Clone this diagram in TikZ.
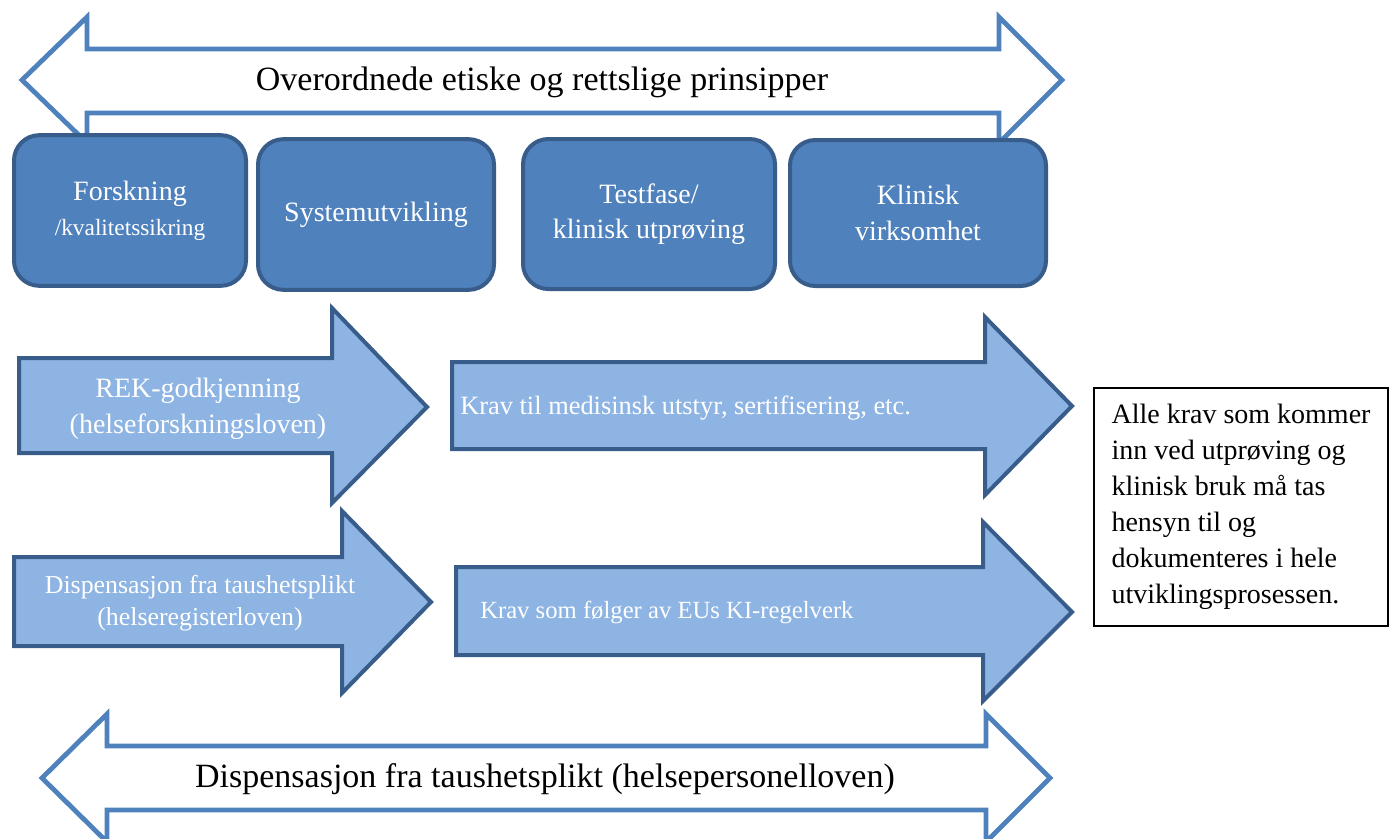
\documentclass[tikz,border=0pt]{standalone}
\usepackage{fontspec}
\setmainfont{Liberation Serif}
\definecolor{frameblue}{RGB}{79,129,189}
\definecolor{stagefill}{RGB}{79,129,189}
\definecolor{stageedge}{RGB}{56,93,138}
\definecolor{flowfill}{RGB}{142,180,227}
\tikzset{
  bigarrow/.style={draw=frameblue, line width=3.6pt, fill=white, line join=miter},
  flowarrow/.style={draw=stageedge, line width=3pt, fill=flowfill, line join=miter},
  stagebox/.style={draw=stageedge, fill=stagefill, line width=3pt, rounded corners=19pt,
    text=white, align=center, font=\fontsize{21}{26.5}\selectfont},
  flowtext/.style={text=white, inner sep=0pt},
  notebox/.style={draw=black, line width=1.1pt, fill=white, align=left,
    font=\fontsize{21}{27}\selectfont, minimum width=220.5pt, minimum height=178.5pt}
}
\newcommand{\smalltag}[1]{{\fontsize{17.5}{20}\selectfont #1}}
\begin{document}
\begin{tikzpicture}[x=0.75pt, y=-0.75pt]
    \clip (0,0) rectangle (1389,839);

    \draw[bigarrow] (22,80) -- (87,17) -- (87,49) -- (999,49) -- (999,17) -- (1062,80)
        -- (999,143) -- (999,113) -- (87,113) -- (87,143) -- cycle;
    \node[font=\fontsize{25.5}{30}\selectfont] (prinsipp) at (542,82) {Overordnede etiske og rettslige prinsipper};

    \node[stagebox, minimum width=174pt, minimum height=113pt] (forsk) at (130,210.5) {Forskning\\\smalltag{/kvalitetssikring}};
    \node[stagebox, minimum width=177pt, minimum height=113pt] (system) at (376,214.5) {Systemutvikling};
    \node[stagebox, minimum width=189pt, minimum height=112.5pt] (test) at (649,214) {Testfase/\\klinisk utprøving};
    \node[stagebox, minimum width=192pt, minimum height=109.5pt] (klinisk) at (918,213) {Klinisk\\virksomhet};

    \draw[flowarrow] (19,358) -- (332,358) -- (332,308) -- (427,407) -- (332,503) -- (332,453) -- (19,453) -- cycle;
    \draw[flowarrow] (14,557) -- (342,557) -- (342,511) -- (431,602) -- (342,693) -- (342,646) -- (14,646) -- cycle;
    \draw[flowarrow] (452,362) -- (985,362) -- (985,317) -- (1072,406) -- (985,495) -- (985,449) -- (452,449) -- cycle;
    \draw[flowarrow] (456,567) -- (983,567) -- (983,522) -- (1072,612) -- (983,701) -- (983,655) -- (456,655) -- cycle;

    \node[flowtext, align=center, font=\fontsize{21}{27}\selectfont] (rek) at (198,409) {REK-godkjenning\\(helseforskningsloven)};
    \node[flowtext, align=center, font=\fontsize{19.4}{24}\selectfont] (register) at (200,603) {Dispensasjon fra taushetsplikt\\(helseregisterloven)};
    \node[flowtext, anchor=west, font=\fontsize{19.8}{23}\selectfont] (utstyr) at (460,408) {Krav til medisinsk utstyr, sertifisering, etc.};
    \node[flowtext, anchor=west, font=\fontsize{18.5}{23}\selectfont] (regelverk) at (480,612) {Krav som følger av EUs KI-regelverk};

    \node[notebox] (note) at (1241,507) {Alle krav som kommer\\inn ved utprøving og\\klinisk bruk må tas\\hensyn til og\\dokumenteres i hele\\utviklingsprosessen.};

    \draw[bigarrow] (42,778) -- (107,714) -- (107,746) -- (986,746) -- (986,714) -- (1050,778)
        -- (986,842) -- (986,810) -- (107,810) -- (107,842) -- cycle;
    \node[font=\fontsize{25.5}{30}\selectfont] (personell) at (545,779) {Dispensasjon fra taushetsplikt (helsepersonelloven)};
\end{tikzpicture}
\end{document}
